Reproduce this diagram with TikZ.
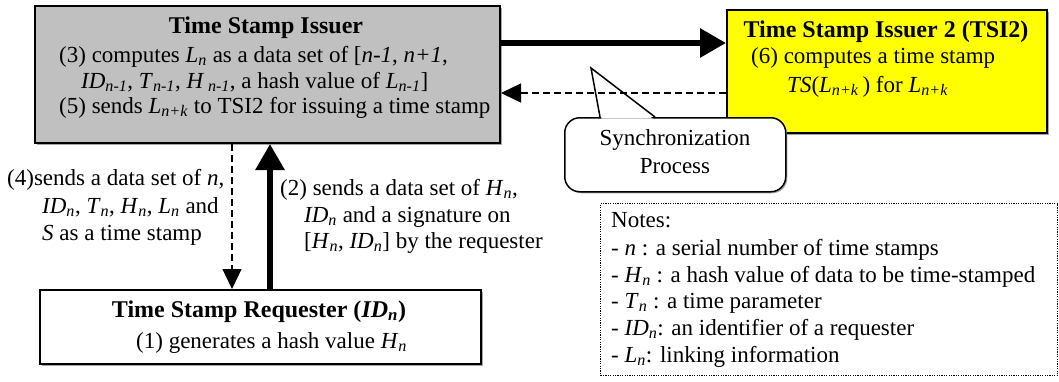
\documentclass[tikz,border=0pt]{standalone}
\usepackage{fontspec}
\setmainfont{Liberation Serif}
\usetikzlibrary{arrows.meta,shadows,calc}
\definecolor{tsigray}{HTML}{C0C0C0}
\definecolor{tsiyellow}{HTML}{FFFF00}
\newcommand\sbs[1]{\textsubscript{\textit{#1}}}
\newcommand\fs{\fontsize{23pt}{26.5pt}\selectfont}
\newcommand\fst{\fontsize{24pt}{27pt}\selectfont\bfseries}
\begin{document}
\begin{tikzpicture}[x=1pt,y=-1pt,
  box/.style={draw=black,line width=2pt,inner sep=0pt,anchor=north west,
    drop shadow={shadow xshift=1.5pt,shadow yshift=-1.5pt,fill=gray!70,opacity=1}},
  txt/.style={inner sep=0pt,font=\fs,anchor=base west},
  ctxt/.style={inner sep=0pt,font=\fs,anchor=base},
  ttl/.style={inner sep=0pt,font=\fst,anchor=base},
  bigarrow/.style={line width=6pt,-{Triangle[length=26pt,width=28pt]}},
  dasharrow/.style={line width=1.3pt,dash pattern=on 7pt off 4pt,-{Triangle[length=20pt,width=19pt]}}]
\useasboundingbox (0,0) rectangle (1059,381);
% boxes
\node[box,fill=tsigray,minimum width=465pt,minimum height=137pt] (tsi) at (34,5) {};
\node[box,fill=tsiyellow,minimum width=320pt,minimum height=123pt] (tsi2) at (726,9) {};
\node[box,fill=white,minimum width=441pt,minimum height=74pt] (req) at (39,289) {};
\node[draw=black,line width=1.2pt,dash pattern=on 1.2pt off 1.2pt,inner sep=0pt,anchor=north west,
  minimum width=457pt,minimum height=172pt] (notes) at (600,203) {};
% TSI text
\node[ttl] (t0) at (266,33) {Time Stamp Issuer};
\node[txt] (t1) at (59,62) {(3) computes \textit{L}\sbs{n} as a data set of [\textit{n-1}, \textit{n+1},};
\node[txt] (t2) at (81,88) {\textit{ID}\sbs{n-1}, \textit{T}\sbs{n-1}, \textit{H}\,\sbs{n-1}, a hash value of \textit{L}\sbs{n-1}]};
\node[txt] (t3) at (59,113) {(5) sends \textit{L}\sbs{n+k} to TSI2 for issuing a time stamp};
% TSI2 text
\node[ttl] (u0) at (886,37) {Time Stamp Issuer 2 (TSI2)};
\node[txt] (u1) at (751,63) {(6) computes a time stamp};
\node[txt] (u2) at (787,92) {\textit{TS}(\textit{L}\sbs{n+k}\,) for \textit{L}\sbs{n+k}};
% Requester text
\node[ttl] (r0) at (259,317) {Time Stamp Requester (\textit{ID}\sbs{n})};
\node[txt] (r1) at (136,348) {(1) generates a hash value \textit{H}\sbs{n}};
% left label
\node[txt] (a1) at (7,185) {(4)sends a data set of \textit{n},};
\node[txt] (a2) at (42,213) {\textit{ID}\sbs{n}, \textit{T}\sbs{n}, \textit{H}\sbs{n}, \textit{L}\sbs{n} and};
\node[txt] (a3) at (42,240) {\textit{S} as a time stamp};
% right label
\node[txt] (b1) at (280,195) {(2) sends a data set of \textit{H}\sbs{n},};
\node[txt] (b2) at (304,222) {\textit{ID}\sbs{n} and a signature on};
\node[txt] (b3) at (304,248) {[\textit{H}\sbs{n}, \textit{ID}\sbs{n}] by the requester};
% notes text
\node[txt] (n0) at (611,227) {Notes:};
\node[txt] (n1) at (611,255) {- \textit{n} : a serial number of time stamps};
\node[txt] (n2) at (611,282) {- \textit{H}\sbs{n} : a hash value of data to be time-stamped};
\node[txt] (n3) at (611,308) {- \textit{T}\sbs{n} : a time parameter};
\node[txt] (n4) at (611,335) {- \textit{ID}\sbs{n}: an identifier of a requester};
\node[txt] (n5) at (611,362) {- \textit{L}\sbs{n}: linking information};
% callout
\node[draw=black,line width=1.5pt,fill=white,rounded corners=15pt,anchor=north west,
  minimum width=221pt,minimum height=74pt,inner sep=0pt,
  drop shadow={shadow xshift=1.5pt,shadow yshift=-1.5pt,fill=gray!70,opacity=1}] (sync) at (564,117) {};
\node[ctxt] (s1) at (675,145) {Synchronization};
\node[ctxt] (s2) at (675,173) {Process};
\coordinate (wl) at (600,117);
\coordinate (wr) at (655,117);
\coordinate (wt) at (591,68);
\fill[white] ($(wl)+(1.5,1.5)$) -- (wt) -- ($(wr)+(-2.5,1.5)$) -- cycle;
\draw[line width=1.5pt,line join=miter] (wl) -- (wt) -- (wr);
% connectors
\coordinate (ya) at (0,43);
\coordinate (yb) at (0,93);
\coordinate (xa) at (232,0);
\coordinate (xb) at (270,0);
\draw[bigarrow] (tsi.east |- ya) -- (tsi2.west |- ya);
\draw[dasharrow] (tsi2.west |- yb) -- (tsi.east |- yb);
\draw[dasharrow] (tsi.south -| xa) -- (req.north -| xa);
\draw[bigarrow] (req.north -| xb) -- (tsi.south -| xb);
\end{tikzpicture}
\end{document}
